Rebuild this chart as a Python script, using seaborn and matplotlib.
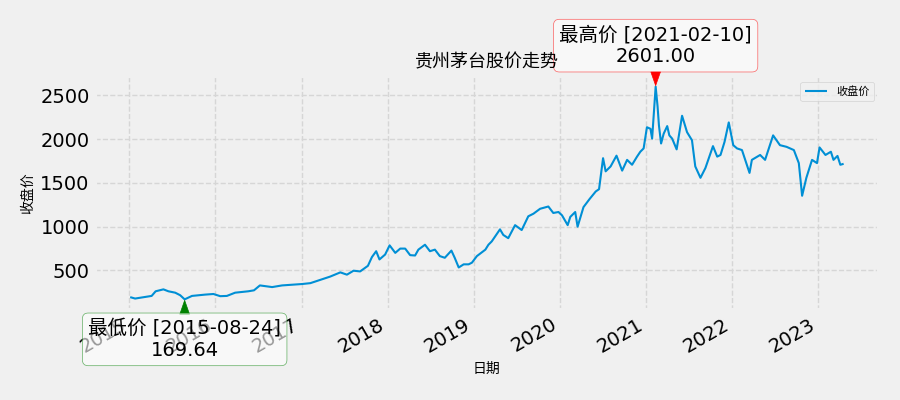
import pandas as pd
import numpy as np
import seaborn as sns
import matplotlib.pyplot as plt
import matplotlib.dates as mdates
from matplotlib.ticker import MultipleLocator

# closing prices
dates = [
    '2015-01-05', '2015-01-26', '2015-04-06', '2015-04-23', '2015-05-26', '2015-06-16',
    '2015-07-15', '2015-08-05', '2015-08-24', '2015-09-24', '2015-11-19', '2015-12-24',
    '2016-01-22', '2016-02-19', '2016-03-25', '2016-05-20', '2016-06-13', '2016-07-08',
    '2016-08-29', '2016-10-10', '2016-12-05', '2017-01-03', '2017-02-07', '2017-03-21',
    '2017-05-02', '2017-06-14', '2017-07-12', '2017-08-09', '2017-09-06', '2017-10-09',
    '2017-10-26', '2017-11-13', '2017-11-27', '2017-12-21', '2018-01-09', '2018-02-02',
    '2018-02-23', '2018-03-16', '2018-04-06', '2018-04-27', '2018-05-11', '2018-06-08',
    '2018-06-29', '2018-07-20', '2018-08-10', '2018-08-31', '2018-09-28', '2018-10-12',
    '2018-10-29', '2018-11-19', '2018-12-10', '2018-12-24', '2019-01-14', '2019-02-19',
    '2019-03-04', '2019-03-18', '2019-04-22', '2019-05-06', '2019-05-27', '2019-06-25',
    '2019-07-23', '2019-08-20', '2019-09-11', '2019-10-09', '2019-11-13', '2019-12-04',
    '2019-12-26', '2020-01-10', '2020-02-03', '2020-02-14', '2020-03-06', '2020-03-16',
    '2020-04-10', '2020-05-06', '2020-06-01', '2020-06-15', '2020-07-02', '2020-07-13',
    '2020-08-03', '2020-08-28', '2020-09-21', '2020-10-12', '2020-11-02', '2020-11-23',
    '2020-12-07', '2020-12-21', '2021-01-04', '2021-01-19', '2021-01-26', '2021-02-10',
    '2021-02-18', '2021-02-24', '2021-03-05', '2021-03-16', '2021-03-31', '2021-04-09',
    '2021-04-21', '2021-05-10', '2021-06-02', '2021-06-23', '2021-07-14', '2021-07-28',
    '2021-08-19', '2021-09-09', '2021-10-11', '2021-10-29', '2021-11-12', '2021-11-29',
    '2021-12-17', '2022-01-05', '2022-01-21', '2022-02-11', '2022-03-15', '2022-03-25',
    '2022-04-29', '2022-05-20', '2022-06-23', '2022-07-22', '2022-08-19', '2022-09-19',
    '2022-10-10', '2022-10-24', '2022-11-11', '2022-12-05', '2022-12-26', '2023-01-06',
    '2023-01-31', '2023-02-23', '2023-03-06', '2023-03-23', '2023-04-04', '2023-04-18',
]
close = [
    195, 179, 209, 262, 284, 262,
    246, 217, 169.64, 209, 224, 231,
    206, 209, 246, 262, 273, 329,
    310, 329, 340, 345, 355, 392,
    430, 478, 452, 497, 489, 553,
    653, 720, 626, 682, 787, 701,
    750, 750, 675, 671, 738, 794,
    720, 738, 664, 645, 727, 645,
    534, 570, 570, 589, 664, 738,
    794, 832, 970, 906, 869, 1018,
    962, 1119, 1149, 1205, 1231, 1157,
    1168, 1130, 1018, 1112, 1168, 1000,
    1224, 1317, 1403, 1429, 1783, 1633,
    1689, 1812, 1641, 1764, 1708, 1801,
    1857, 1895, 2137, 2119, 2007, 2601,
    2379, 2156, 1951, 2063, 2150, 2044,
    2007, 1884, 2268, 2081, 1988, 1689,
    1559, 1671, 1921, 1801, 1820, 1969,
    2192, 1932, 1895, 1876, 1615, 1764,
    1820, 1764, 2044, 1932, 1913, 1876,
    1727, 1354, 1559, 1764, 1727, 1906,
    1820, 1857, 1764, 1809, 1708, 1719,
]

title = '贵州茅台股价走势'
x_label = '日期'
y_label = '收盘价'
series_name = '收盘价'

df = pd.DataFrame({'date': pd.to_datetime(dates), 'close': close})

plt.style.use('fivethirtyeight')
plt.rcParams['font.family'] = ['DejaVu Sans', 'Noto Sans CJK SC']

fig, ax = plt.subplots(figsize=(9, 4), dpi=100)
sns.lineplot(data=df, x='date', y='close', ax=ax, label=series_name,
             linewidth=1.5, color='#008fd5')

ax.grid(True, linestyle='--', color='#d6d6d6', linewidth=1)
ax.xaxis.set_major_locator(mdates.YearLocator())
ax.xaxis.set_major_formatter(mdates.DateFormatter('%Y'))
ax.yaxis.set_major_locator(MultipleLocator(500))
ax.tick_params(axis='both', labelsize=14)

ax.set_title(title, fontsize=13)
ax.set_xlabel(x_label, fontsize=10)
ax.set_ylabel(y_label, fontsize=10)
ax.legend(loc='upper right', fontsize=8)

# annotate max / min
imax = df['close'].idxmax()
imin = df['close'].idxmin()
hi = df.loc[imax]
lo = df.loc[imin]
ax.annotate(f"最高价 [{hi['date']:%Y-%m-%d}]\n{hi['close']:.2f}",
            xy=(hi['date'], hi['close']), xytext=(0, 41), textcoords='offset pixels',
            ha='center', va='center', fontsize=14,
            bbox=dict(boxstyle='round,pad=0.3', fc='white', ec='red', alpha=0.6),
            arrowprops=dict(facecolor='red', edgecolor='red', shrink=0.05,
                            width=1, headwidth=7, headlength=10))
ax.annotate(f"最低价 [{lo['date']:%Y-%m-%d}]\n{lo['close']:.2f}",
            xy=(lo['date'], lo['close']), xytext=(0, -40), textcoords='offset pixels',
            ha='center', va='center', fontsize=14,
            bbox=dict(boxstyle='round,pad=0.3', fc='white', ec='green', alpha=0.6),
            arrowprops=dict(facecolor='green', edgecolor='green', shrink=0.05,
                            width=1, headwidth=7, headlength=10))

fig.autofmt_xdate()
fig.subplots_adjust(left=0.105, right=0.977, top=0.81, bottom=0.225)
fig.savefig('out.png', dpi=100)
